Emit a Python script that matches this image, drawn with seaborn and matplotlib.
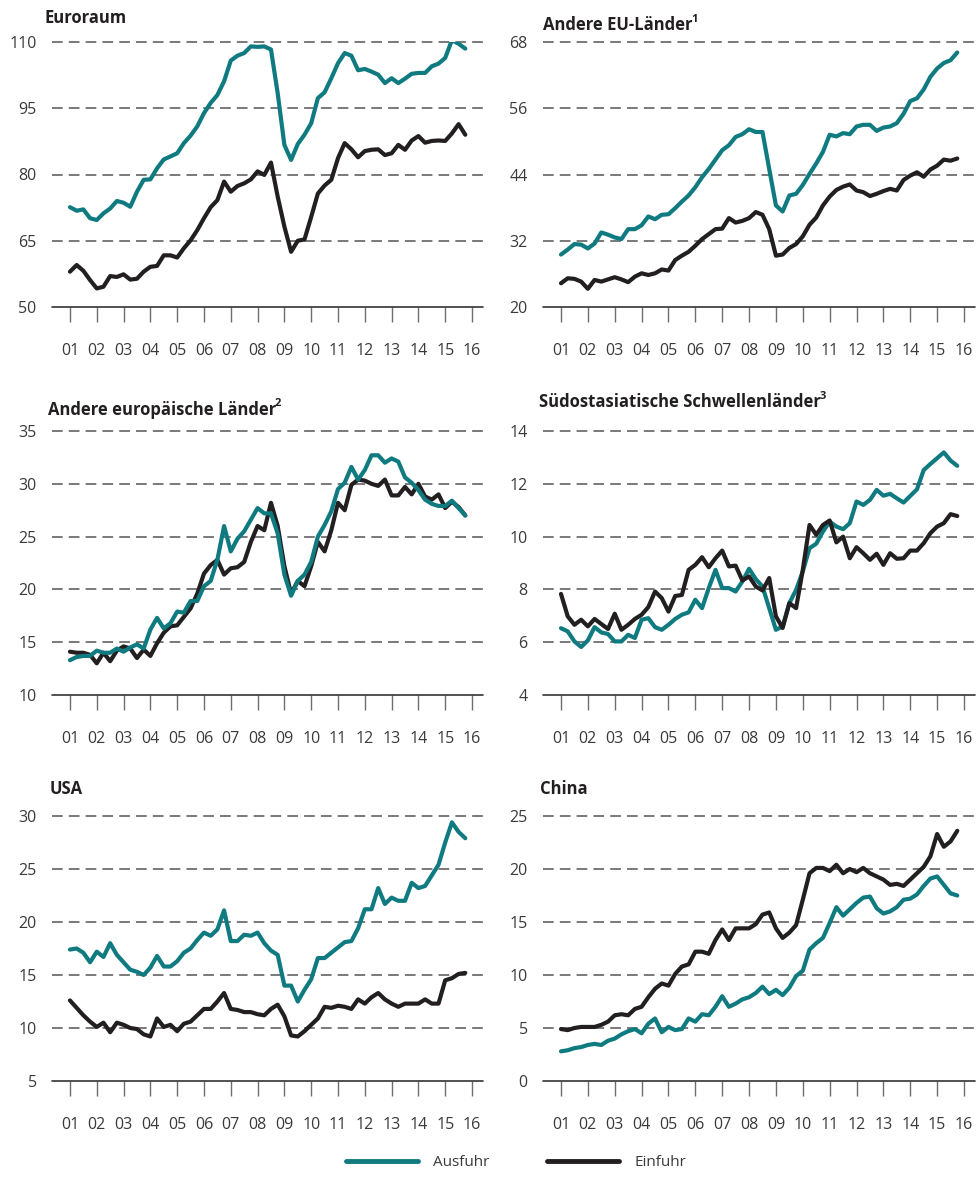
import numpy as np
import pandas as pd
import matplotlib
matplotlib.use("Agg")
import matplotlib.pyplot as plt
from matplotlib.lines import Line2D
import seaborn as sns

# Quartalswerte 2001 Q1 bis 2015 Q4
quartale = 2001 + np.arange(60) / 4

euro_aus = [72.6, 71.8, 72.1, 70.1, 69.7, 71.2, 72.3, 74.0, 73.6, 72.7,
            76.1, 78.8, 78.9, 81.4, 83.4, 84.1, 84.8, 87.1, 88.8, 90.9,
            93.9, 96.2, 98.0, 101.1, 105.8, 106.9, 107.5, 109.0, 108.9, 109.0,
            108.3, 98.4, 86.7, 83.3, 86.9, 89.0, 91.6, 97.3, 98.6, 101.8,
            105.2, 107.5, 106.9, 103.6, 103.9, 103.3, 102.6, 100.7, 101.8, 100.7,
            101.7, 102.8, 103.0, 103.0, 104.5, 105.1, 106.4, 110.4, 109.6, 108.5]
euro_ein = [58.0, 59.5, 58.2, 56.1, 54.2, 54.6, 57.0, 56.8, 57.4, 56.2,
            56.4, 58.0, 59.1, 59.3, 61.7, 61.7, 61.2, 63.3, 65.1, 67.4,
            70.1, 72.6, 74.2, 78.4, 76.1, 77.4, 78.0, 78.9, 80.7, 79.9,
            82.7, 75.0, 68.2, 62.5, 65.0, 65.3, 70.4, 75.7, 77.5, 78.8,
            83.7, 87.1, 85.7, 83.9, 85.3, 85.6, 85.7, 84.4, 84.8, 86.7,
            85.6, 87.7, 88.7, 87.2, 87.6, 87.7, 87.6, 89.3, 91.4, 89.0]

eu_aus = [29.5, 30.4, 31.4, 31.3, 30.6, 31.5, 33.5, 33.1, 32.6, 32.3,
          34.1, 34.1, 34.8, 36.4, 35.9, 36.7, 36.8, 37.9, 39.1, 40.2,
          41.7, 43.5, 45.0, 46.7, 48.4, 49.3, 50.8, 51.3, 52.2, 51.7,
          51.7, 45.0, 38.4, 37.3, 40.2, 40.5, 42.1, 44.1, 46.0, 48.1,
          51.2, 50.9, 51.5, 51.3, 52.7, 53.0, 53.0, 51.9, 52.5, 52.7,
          53.3, 55.0, 57.3, 57.8, 59.4, 61.7, 63.2, 64.2, 64.7, 66.1]
eu_ein = [24.3, 25.2, 25.1, 24.6, 23.3, 24.9, 24.6, 25.0, 25.4, 25.0,
          24.5, 25.5, 26.1, 25.8, 26.1, 26.8, 26.6, 28.5, 29.3, 30.0,
          31.1, 32.3, 33.2, 34.1, 34.2, 36.1, 35.3, 35.6, 36.1, 37.2,
          36.7, 34.1, 29.3, 29.5, 30.7, 31.4, 32.8, 34.9, 36.2, 38.4,
          40.0, 41.2, 41.8, 42.2, 41.1, 40.8, 40.1, 40.5, 41.0, 41.4,
          41.1, 43.0, 43.8, 44.4, 43.6, 44.9, 45.6, 46.7, 46.5, 46.9]

eur_aus = [13.3, 13.6, 13.7, 13.7, 14.2, 14.0, 14.0, 14.4, 14.1, 14.5,
           14.8, 14.4, 16.2, 17.3, 16.3, 16.8, 17.9, 17.8, 18.9, 18.9,
           20.3, 20.8, 22.8, 26.0, 23.6, 24.8, 25.5, 26.6, 27.7, 27.2,
           27.2, 25.3, 21.4, 19.4, 20.8, 21.4, 22.6, 25.0, 26.1, 27.4,
           29.5, 30.1, 31.6, 30.4, 31.3, 32.7, 32.7, 32.0, 32.4, 32.1,
           30.6, 30.1, 29.4, 28.5, 28.1, 27.9, 27.9, 28.4, 27.7, 27.0]
eur_ein = [14.1, 14.0, 14.0, 13.8, 13.0, 14.0, 13.2, 14.2, 14.6, 14.4,
           13.5, 14.3, 13.7, 14.9, 15.9, 16.5, 16.6, 17.4, 18.2, 19.6,
           21.5, 22.3, 22.8, 21.4, 22.0, 22.1, 22.6, 24.5, 26.0, 25.6,
           28.2, 26.0, 22.2, 19.6, 20.8, 20.3, 22.2, 24.5, 23.6, 25.6,
           28.2, 27.5, 29.9, 30.4, 30.3, 30.0, 29.8, 30.4, 28.9, 28.9,
           29.7, 29.0, 30.0, 28.8, 28.5, 29.0, 27.7, 28.3, 27.8, 27.0]

soa_aus = [6.53, 6.41, 6.03, 5.82, 6.07, 6.57, 6.37, 6.31, 6.03, 6.03,
           6.28, 6.16, 6.85, 6.91, 6.57, 6.47, 6.66, 6.88, 7.04, 7.13,
           7.61, 7.29, 8.05, 8.74, 8.05, 8.05, 7.92, 8.30, 8.78, 8.39,
           8.11, 7.29, 6.47, 6.60, 7.48, 7.98, 8.68, 9.56, 9.73, 10.19,
           10.57, 10.38, 10.28, 10.51, 11.33, 11.20, 11.39, 11.77, 11.55, 11.62,
           11.45, 11.29, 11.54, 11.79, 12.52, 12.75, 12.97, 13.19, 12.88, 12.68]
soa_ein = [7.83, 6.98, 6.66, 6.85, 6.60, 6.88, 6.69, 6.50, 7.08, 6.47,
           6.66, 6.88, 7.04, 7.33, 7.92, 7.67, 7.16, 7.75, 7.79, 8.74,
           8.93, 9.22, 8.84, 9.18, 9.47, 8.87, 8.90, 8.34, 8.49, 8.11,
           7.96, 8.43, 6.98, 6.54, 7.48, 7.29, 8.74, 10.44, 10.07, 10.44,
           10.61, 9.78, 10.00, 9.18, 9.60, 9.37, 9.12, 9.35, 8.93, 9.37,
           9.16, 9.18, 9.47, 9.47, 9.75, 10.13, 10.38, 10.51, 10.85, 10.78]

usa_aus = [17.4, 17.5, 17.1, 16.2, 17.2, 16.7, 18.0, 16.9, 16.2, 15.5,
           15.3, 15.0, 15.7, 16.8, 15.8, 15.8, 16.3, 17.1, 17.5, 18.3,
           19.0, 18.7, 19.3, 21.1, 18.2, 18.2, 18.8, 18.7, 19.0, 18.0,
           17.3, 16.9, 14.0, 14.0, 12.5, 13.6, 14.6, 16.6, 16.6, 17.1,
           17.6, 18.1, 18.2, 19.4, 21.2, 21.2, 23.2, 21.7, 22.3, 22.0,
           22.0, 23.7, 23.2, 23.4, 24.4, 25.4, 27.5, 29.4, 28.5, 27.9]
usa_ein = [12.6, 11.9, 11.2, 10.6, 10.1, 10.5, 9.6, 10.5, 10.3, 10.0,
           9.9, 9.4, 9.2, 10.9, 10.1, 10.3, 9.7, 10.4, 10.6, 11.2,
           11.8, 11.8, 12.5, 13.3, 11.8, 11.7, 11.5, 11.5, 11.3, 11.2,
           11.8, 12.2, 11.1, 9.3, 9.2, 9.7, 10.3, 10.9, 12.0, 11.9,
           12.1, 12.0, 11.8, 12.7, 12.3, 12.9, 13.3, 12.7, 12.3, 12.0,
           12.3, 12.3, 12.3, 12.7, 12.3, 12.3, 14.5, 14.7, 15.1, 15.2]

china_aus = [2.8, 2.9, 3.1, 3.2, 3.4, 3.5, 3.4, 3.8, 4.0, 4.4,
             4.7, 4.9, 4.5, 5.4, 5.9, 4.6, 5.1, 4.8, 4.9, 5.9,
             5.6, 6.3, 6.2, 7.0, 8.0, 7.0, 7.3, 7.7, 7.9, 8.3,
             8.9, 8.2, 8.6, 8.1, 8.8, 9.9, 10.4, 12.4, 13.0, 13.5,
             14.9, 16.4, 15.6, 16.2, 16.8, 17.3, 17.4, 16.3, 15.8, 16.0,
             16.4, 17.1, 17.2, 17.6, 18.4, 19.1, 19.3, 18.5, 17.7, 17.5]
china_ein = [4.9, 4.8, 5.0, 5.1, 5.1, 5.1, 5.3, 5.6, 6.2, 6.3,
             6.2, 6.8, 7.0, 7.9, 8.7, 9.2, 9.0, 10.1, 10.8, 11.0,
             12.2, 12.2, 12.0, 13.3, 14.3, 13.3, 14.4, 14.4, 14.4, 14.8,
             15.7, 15.9, 14.4, 13.5, 14.0, 14.7, 17.1, 19.6, 20.1, 20.1,
             19.8, 20.4, 19.6, 20.0, 19.7, 20.1, 19.6, 19.3, 19.0, 18.5,
             18.6, 18.4, 19.0, 19.6, 20.2, 21.2, 23.3, 22.1, 22.6, 23.6]

titel = ["Euroraum", "Andere EU-Länder", "Andere europäische Länder",
         "Südostasiatische Schwellenländer", "USA", "China"]
fussnoten = ["", "1", "2", "3", "", ""]
y_ticks = [[50, 65, 80, 95, 110], [20, 32, 44, 56, 68], [10, 15, 20, 25, 30, 35],
           [4, 6, 8, 10, 12, 14], [5, 10, 15, 20, 25, 30], [0, 5, 10, 15, 20, 25]]
jahre = list(range(2001, 2017))
jahr_labels = [f"{j % 100:02d}" for j in jahre]

serien = [(euro_aus, euro_ein), (eu_aus, eu_ein), (eur_aus, eur_ein),
          (soa_aus, soa_ein), (usa_aus, usa_ein), (china_aus, china_ein)]

TEAL = "#0f7b80"
SCHWARZ = "#231f20"
GRAU = "#3a3a3a"

sns.set_style("white")
plt.rcParams["font.family"] = ["Open Sans", "DejaVu Sans"]

fig = plt.figure(figsize=(9.76, 11.78), dpi=100)

# Achsenpositionen in Pixeln (links, oben, rechts, unten)
W, H = 976, 1178
boxen = [(52, 42, 483, 307), (543, 42, 975, 307),
         (52, 431, 483, 695), (543, 431, 975, 695),
         (52, 816, 483, 1081), (543, 816, 975, 1081)]
titel_pos = [(44, 18), (543, 25), (48, 410), (539, 402), (50, 789), (540, 789)]

renderer = fig.canvas.get_renderer()

for k, (aus, ein) in enumerate(serien):
    l, t, r, b = boxen[k]
    ax = fig.add_axes([l / W, 1 - b / H, (r - l) / W, (b - t) / H])

    df = pd.DataFrame({
        "quartal": np.concatenate([quartale, quartale]),
        "wert": list(aus) + list(ein),
        "reihe": ["Ausfuhr"] * len(aus) + ["Einfuhr"] * len(ein),
    })

    # gestrichelte Gitterlinien + durchgezogene Grundlinie
    yt = y_ticks[k]
    for v in yt[1:]:
        ax.axhline(v, color="#555555", lw=1.1, ls=(0, (7, 4)), zorder=1, clip_on=False)
    ax.axhline(yt[0], color="#333333", lw=1.2, zorder=1, clip_on=False)

    sns.lineplot(data=df, x="quartal", y="wert", hue="reihe",
                 palette={"Ausfuhr": TEAL, "Einfuhr": SCHWARZ},
                 hue_order=["Einfuhr", "Ausfuhr"] if k == 2 else ["Ausfuhr", "Einfuhr"],
                 linewidth=3.0, legend=False, ax=ax, zorder=3,
                 solid_joinstyle="round", solid_capstyle="round")

    ax.set_xlim(2000.33, 2016.41)
    ax.set_ylim(yt[0], yt[-1])
    ax.set_xticks(jahre)
    ax.set_xticklabels(jahr_labels)
    ax.set_yticks(yt)
    ax.set_yticklabels([str(v) for v in yt])
    ax.set_xlabel("")
    ax.set_ylabel("")
    for s in ax.spines.values():
        s.set_visible(False)
    ax.tick_params(axis="x", direction="out", length=11, width=1.0, color="#6d6e70",
                   pad=15, labelsize=11.5, labelcolor=GRAU, bottom=True)
    ax.tick_params(axis="y", length=0, pad=11, labelsize=11.5, labelcolor=GRAU)

    # Titel mit hochgestellter Fussnote
    tx, ty = titel_pos[k]
    txt = fig.text(tx / W, 1 - ty / H, titel[k], fontsize=12, fontweight="bold",
                   color="#231f20", ha="left", va="center")
    if fussnoten[k]:
        bb = txt.get_window_extent(renderer=renderer)
        fig.text((bb.x1 - 1.5) / W, 1 - (ty - 6) / H, fussnoten[k], fontsize=8,
                 fontweight="bold", color="#231f20", ha="left", va="center")

handles = [Line2D([], [], color=TEAL, lw=3.5, solid_capstyle="round"),
           Line2D([], [], color=SCHWARZ, lw=3.5, solid_capstyle="round")]
fig.legend(handles, ["Ausfuhr", "Einfuhr"], loc="center", ncol=2,
           bbox_to_anchor=(516 / W, 1 - 1163 / H), frameon=False,
           fontsize=11, handlelength=4.7, handletextpad=1.0, columnspacing=3.8,
           labelcolor=GRAU)

fig.savefig("out.png", dpi=100)
